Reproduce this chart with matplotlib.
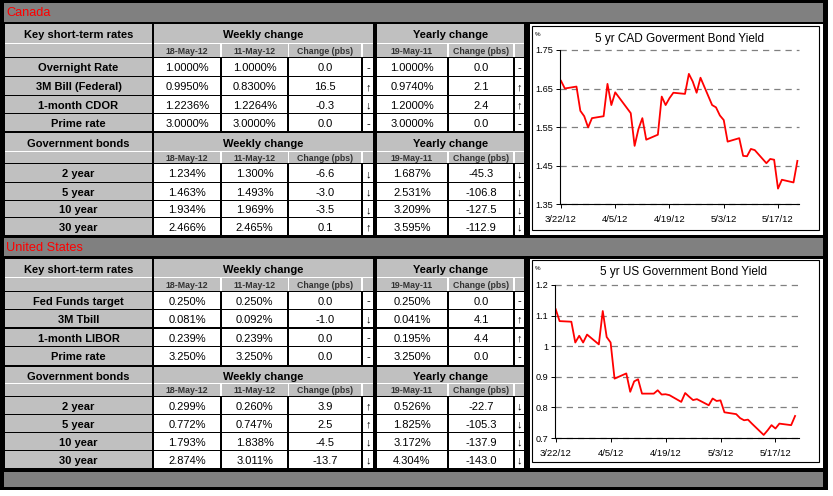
import matplotlib
matplotlib.use('Agg')
import pandas as pd
import matplotlib.pyplot as plt
from matplotlib.patches import Rectangle

plt.rcParams['font.family'] = ['Liberation Sans', 'DejaVu Sans']

# ---------------- table data ----------------
cur_date, wk_date, yr_date = '18-May-12', '11-May-12', '19-May-11'

ca_short_names = ['Overnight Rate', '3M Bill (Federal)', '1-month CDOR', 'Prime rate']
ca_short_now = [1.0000, 0.9950, 1.2236, 3.0000]
ca_short_wk = [1.0000, 0.8300, 1.2264, 3.0000]
ca_short_wchg = [0.0, 16.5, -0.3, 0.0]
ca_short_yr = [1.0000, 0.9740, 1.2000, 3.0000]
ca_short_ychg = [0.0, 2.1, 2.4, 0.0]

ca_bond_names = ['2 year', '5 year', '10 year', '30 year']
ca_bond_now = [1.234, 1.463, 1.934, 2.466]
ca_bond_wk = [1.300, 1.493, 1.969, 2.465]
ca_bond_wchg = [-6.6, -3.0, -3.5, 0.1]
ca_bond_yr = [1.687, 2.531, 3.209, 3.595]
ca_bond_ychg = [-45.3, -106.8, -127.5, -112.9]

us_short_names = ['Fed Funds target', '3M Tbill', '1-month LIBOR', 'Prime rate']
us_short_now = [0.250, 0.081, 0.239, 3.250]
us_short_wk = [0.250, 0.092, 0.239, 3.250]
us_short_wchg = [0.0, -1.0, 0.0, 0.0]
us_short_yr = [0.250, 0.041, 0.195, 3.250]
us_short_ychg = [0.0, 4.1, 4.4, 0.0]

us_bond_names = ['2 year', '5 year', '10 year', '30 year']
us_bond_now = [0.299, 0.772, 1.793, 2.874]
us_bond_wk = [0.260, 0.747, 1.838, 3.011]
us_bond_wchg = [3.9, 2.5, -4.5, -13.7]
us_bond_yr = [0.526, 1.825, 3.172, 4.304]
us_bond_ychg = [-22.7, -105.3, -137.9, -143.0]

# ---------------- chart data ----------------
ca_dates = ['2012-03-22', '2012-03-23', '2012-03-26', '2012-03-27', '2012-03-28', '2012-03-29',
            '2012-03-30', '2012-04-02', '2012-04-03', '2012-04-04', '2012-04-05', '2012-04-09',
            '2012-04-10', '2012-04-11', '2012-04-12', '2012-04-13', '2012-04-16', '2012-04-17',
            '2012-04-18', '2012-04-19', '2012-04-20', '2012-04-23', '2012-04-24', '2012-04-25',
            '2012-04-26', '2012-04-27', '2012-04-30', '2012-05-01', '2012-05-02', '2012-05-03',
            '2012-05-04', '2012-05-07', '2012-05-08', '2012-05-09', '2012-05-10', '2012-05-11',
            '2012-05-14', '2012-05-15', '2012-05-16', '2012-05-17', '2012-05-18', '2012-05-21',
            '2012-05-22']
ca_5yr = [1.670, 1.650, 1.655, 1.592, 1.578, 1.549, 1.573, 1.578, 1.662, 1.607, 1.640, 1.586,
          1.501, 1.545, 1.573, 1.517, 1.530, 1.629, 1.607, 1.625, 1.639, 1.636, 1.688, 1.668,
          1.639, 1.678, 1.607, 1.601, 1.580, 1.568, 1.512, 1.521, 1.475, 1.474, 1.493, 1.490,
          1.456, 1.467, 1.465, 1.390, 1.413, 1.406, 1.462]

us_dates = ['2012-03-22', '2012-03-23', '2012-03-26', '2012-03-27', '2012-03-28', '2012-03-29',
            '2012-03-30', '2012-04-02', '2012-04-03', '2012-04-04', '2012-04-05', '2012-04-06',
            '2012-04-09', '2012-04-10', '2012-04-11', '2012-04-12', '2012-04-13', '2012-04-16',
            '2012-04-17', '2012-04-18', '2012-04-19', '2012-04-20', '2012-04-23', '2012-04-24',
            '2012-04-25', '2012-04-26', '2012-04-27', '2012-04-30', '2012-05-01', '2012-05-02',
            '2012-05-03', '2012-05-04', '2012-05-07', '2012-05-08', '2012-05-09', '2012-05-10',
            '2012-05-11', '2012-05-14', '2012-05-15', '2012-05-16', '2012-05-17', '2012-05-18',
            '2012-05-21', '2012-05-22']
us_5yr = [1.121, 1.082, 1.080, 1.012, 1.034, 1.012, 1.038, 1.006, 1.115, 1.030, 1.012, 0.894,
          0.911, 0.851, 0.885, 0.892, 0.845, 0.845, 0.856, 0.842, 0.843, 0.840, 0.818, 0.847,
          0.835, 0.824, 0.827, 0.807, 0.829, 0.821, 0.823, 0.784, 0.778, 0.765, 0.758, 0.760,
          0.747, 0.710, 0.725, 0.742, 0.731, 0.747, 0.742, 0.772]

xtick_dates = ['2012-03-22', '2012-04-05', '2012-04-19', '2012-05-03', '2012-05-17']
xtick_labels = ['3/22/12', '4/5/12', '4/19/12', '5/3/12', '5/17/12']
ca_yticks = [1.35, 1.45, 1.55, 1.65, 1.75]
ca_ylabels = ['1.35', '1.45', '1.55', '1.65', '1.75']
us_yticks = [0.7, 0.8, 0.9, 1.0, 1.1, 1.2]
us_ylabels = ['0.7', '0.8', '0.9', '1', '1.1', '1.2']

# ---------------- layout (pixels) ----------------
W, H = 833, 496
GREY = '#C0C0C0'
DARK = '#808080'
LABEL = (5, 152)
COLS = [(154, 220), (222, 287.5), (289.5, 361), (363, 373), (377, 447), (449, 513), (515, 524)]
SPAN_W = (154, 373)
SPAN_Y = (377, 524)

fig = plt.figure(figsize=(W / 100, H / 100), dpi=100)
bg = fig.add_axes([0, 0, 1, 1])
bg.set_xlim(0, W)
bg.set_ylim(H, 0)
bg.axis('off')


def box(x0, x1, y0, y1, color):
    bg.add_patch(Rectangle((x0, y0), x1 - x0, y1 - y0, facecolor=color, edgecolor='none', lw=0))


def txt(x, y, s, size=8, bold=False, color='black', ha='center'):
    bg.text(x, y, s, fontsize=size, fontweight='bold' if bold else 'normal', color=color,
            ha=ha, va='center')


def arrow(v):
    if v == 0:
        return '-'
    return '\u2191' if v > 0 else '\u2193'


def block(title, hdr, date, rows, names, now, wk, wchg, yr, ychg, dec):
    # header + date rows (white hairlines between grey cells)
    for x0, x1 in [LABEL, SPAN_W, SPAN_Y]:
        box(x0, x1, hdr[0], date[1], 'white')
        box(x0, x1, hdr[0], hdr[1], GREY)
    box(LABEL[0], LABEL[1], date[0], date[1], GREY)
    for x0, x1 in COLS:
        box(x0 - 0.4, x1 + 0.4, date[0], date[1], GREY)
    yc = (hdr[0] + hdr[1]) / 2 + 2
    txt((LABEL[0] + LABEL[1]) / 2, yc, title, bold=True)
    txt(sum(SPAN_W) / 2, yc, 'Weekly change', bold=True)
    txt(sum(SPAN_Y) / 2, yc, 'Yearly change', bold=True)
    yd = (date[0] + date[1]) / 2 + 1
    for (x0, x1), s in zip(COLS, [cur_date, wk_date, 'Change (pbs)', '', yr_date, 'Change (pbs)', '']):
        txt((x0 + x1) / 2, yd, s, size=6.3, bold=True, color='#333333')
    # data rows
    for i, (y0, y1) in enumerate(rows):
        box(LABEL[0], LABEL[1], y0, y1, GREY)
        for x0, x1 in COLS:
            box(x0, x1, y0, y1, 'white')
        y = (y0 + y1) / 2 + 1.3
        txt((LABEL[0] + LABEL[1]) / 2, y, names[i], bold=True)
        vals = [f'{now[i]:.{dec}f}%', f'{wk[i]:.{dec}f}%', f'{wchg[i]:.1f}', arrow(wchg[i]),
                f'{yr[i]:.{dec}f}%', f'{ychg[i]:.1f}', arrow(ychg[i])]
        for (x0, x1), s in zip(COLS, vals):
            txt((x0 + x1) / 2, y, s)


def strip(y0, y1, label):
    box(4, 823, y0, y1, DARK)
    if label:
        txt(6, (y0 + y1) / 2 + 1, label, size=9.2, color='#FF0000', ha='left')


def chart(cell_y, frame, axes_px, dates, vals, yticks, ylabels, ylim, xlim, title, title_xy):
    box(530, 823, cell_y[0], cell_y[1], 'white')
    fx0, fy0, fx1, fy1 = frame
    bg.add_patch(Rectangle((fx0, fy0), fx1 - fx0, fy1 - fy0, facecolor='white',
                           edgecolor='black', lw=0.8))
    bg.text(title_xy[0], title_xy[1], title, fontsize=8.5, ha='center', va='center')
    bg.text(fx0 + 5, axes_px[1] - 16, '%', fontsize=4.5, ha='center', va='center')
    x0, y0, x1, y1 = axes_px
    ax = fig.add_axes([x0 / W, 1 - y1 / H, (x1 - x0) / W, (y1 - y0) / H])
    ax.set_facecolor('none')
    ax.plot(pd.to_datetime(dates), vals, color='#FF0000', lw=1.3, solid_joinstyle='round')
    ax.set_ylim(*ylim)
    ax.set_xlim(pd.Timestamp(xlim[0]), pd.Timestamp(xlim[1]))
    ax.set_yticks(yticks)
    ax.set_yticklabels(ylabels)
    ax.set_xticks(pd.to_datetime(xtick_dates))
    ax.set_xticklabels(xtick_labels)
    for s in ['top', 'right']:
        ax.spines[s].set_visible(False)
    for s in ['left', 'bottom']:
        ax.spines[s].set_linewidth(0.8)
        ax.spines[s].set_color('black')
    ax.yaxis.grid(True, color='#808080', lw=0.9, linestyle=(0, (5, 4)))
    for gl in ax.get_ygridlines():
        gl.set_clip_on(False)
    ax.tick_params(axis='y', direction='out', length=3, width=0.7, labelsize=6.6, pad=2)
    ax.tick_params(axis='x', direction='out', length=3, width=0.7, labelsize=6.8, pad=5)
    return ax


# black frame
box(0, 828, 0, 490, 'black')

# ---- Canada ----
strip(3, 21.5, 'Canada')
block('Key short-term rates', (24, 43), (44, 56.5),
      [(58, 75.5), (77, 94.5), (96, 112.5), (114, 131)],
      ca_short_names, ca_short_now, ca_short_wk, ca_short_wchg, ca_short_yr, ca_short_ychg, 4)
block('Government bonds', (133, 151), (152, 162.5),
      [(164, 181.5), (183, 199.5), (201, 216.5), (218, 234.5)],
      ca_bond_names, ca_bond_now, ca_bond_wk, ca_bond_wchg, ca_bond_yr, ca_bond_ychg, 3)
chart((24, 235), (532.5, 25.5, 819, 230), (560, 50, 799, 204), ca_dates, ca_5yr,
      ca_yticks, ca_ylabels, (1.35, 1.75), ('2012-03-21 18:00', '2012-05-22 10:00'),
      '5 yr CAD Goverment Bond Yield', (680, 39))

# ---- United States ----
strip(238, 256, 'United States')
block('Key short-term rates', (259, 277), (278, 290.5),
      [(292, 308.5), (310, 327), (329, 345.5), (347, 364.5)],
      us_short_names, us_short_now, us_short_wk, us_short_wchg, us_short_yr, us_short_ychg, 3)
block('Government bonds', (367, 383), (384, 395.5),
      [(397, 413.5), (415, 431.5), (433, 449.5), (451, 468)],
      us_bond_names, us_bond_now, us_bond_wk, us_bond_wchg, us_bond_yr, us_bond_ychg, 3)
chart((259, 468), (532.5, 259.5, 819, 462), (555, 285, 799, 438), us_dates, us_5yr,
      us_yticks, us_ylabels, (0.7, 1.2), ('2012-03-21 20:00', '2012-05-23 00:00'),
      '5 yr US Government Bond Yield', (684, 272))

strip(472, 487, '')

fig.savefig('out.png', dpi=100)
